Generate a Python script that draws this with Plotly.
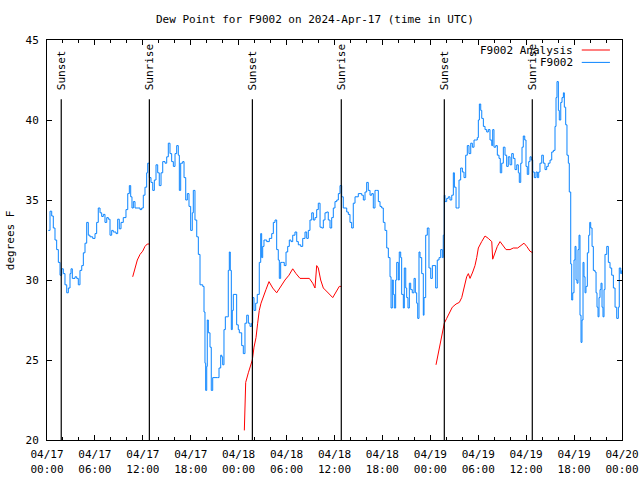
import pandas as pd
import plotly.graph_objects as go

# Hours since 2024-04-17 00:00 UTC
obs_hours = [0.16,0.38,0.59,0.79,1.00,1.21,1.42,1.63,1.84,2.04,2.25,2.47,2.67,2.88,3.01,3.17,3.51,3.72,3.92,4.13,
4.35,4.55,4.76,4.97,5.17,5.38,5.72,6.01,6.22,6.42,6.64,6.85,7.05,7.26,7.48,7.68,7.89,8.10,8.30,8.64,
8.85,9.05,9.27,9.55,9.89,10.11,10.31,10.48,10.64,10.81,11.02,11.65,11.86,12.06,12.27,12.48,12.61,12.81,13.02,13.24,
13.44,13.65,13.86,14.06,14.28,14.49,14.78,14.99,15.19,15.40,15.61,15.82,16.03,16.24,16.44,16.57,16.74,16.99,17.16,17.37,
17.57,17.78,17.99,18.19,18.32,18.53,18.75,18.95,19.16,19.50,19.66,19.78,19.87,20.00,20.07,20.20,20.41,20.57,20.75,21.04,
21.33,21.54,21.75,21.88,22.00,22.16,22.33,22.58,22.70,22.83,22.95,23.08,23.20,23.33,23.54,23.75,23.95,24.08,24.38,24.58,
24.79,25.01,25.21,25.42,25.63,25.76,25.92,26.13,26.33,26.58,26.76,26.88,27.01,27.17,27.51,27.84,28.14,28.34,28.55,28.76,
28.96,29.09,29.26,29.51,29.71,29.93,30.14,30.34,30.55,30.77,31.05,31.27,31.47,31.77,32.02,32.31,32.52,32.72,32.93,33.15,
33.35,33.56,33.77,33.97,34.19,34.40,34.60,34.81,35.02,35.22,35.44,35.65,35.85,36.06,36.28,36.48,36.69,36.90,37.10,37.53,
37.73,37.94,38.15,38.35,38.57,38.98,39.41,39.61,39.82,40.03,40.23,40.45,40.66,40.86,41.07,41.28,41.49,41.70,41.91,42.11,
42.32,42.54,42.74,42.95,43.08,43.24,43.36,43.49,43.66,43.79,43.99,44.11,44.29,44.41,44.62,44.74,44.92,45.04,45.20,45.37,
45.54,45.74,45.96,46.12,46.29,46.42,46.58,46.71,46.92,47.12,47.21,47.42,47.62,47.83,48.05,48.25,48.46,48.67,48.87,49.09,
49.30,49.50,49.62,49.75,49.84,50.05,50.25,50.46,50.68,50.88,51.01,51.22,51.38,51.59,51.80,52.01,52.22,52.43,52.63,52.84,
53.06,53.26,53.47,53.68,53.88,54.01,54.14,54.31,54.44,54.64,54.85,55.06,55.26,55.47,55.69,55.81,55.97,56.19,56.39,56.60,
56.76,56.94,57.14,57.35,57.56,57.76,57.98,58.19,58.39,58.60,58.82,59.02,59.14,59.32,59.48,59.64,59.82,59.98,60.14,60.32,
60.48,60.64,60.82,61.02,61.23,61.40,61.57,61.73,61.95,62.15,62.36,62.57,62.77,62.99,63.20,63.40,63.61,63.74,63.86,64.03,
64.15,64.33,64.49,64.66,64.78,64.95,65.11,65.28,65.40,65.58,65.70,65.83,65.99,66.12,66.24,66.37,66.49,66.62,66.74,66.87,
66.99,67.12,67.24,67.37,67.49,67.66,67.83,67.96,68.08,68.25,68.41,68.62,68.75,68.87,69.00,69.12,69.25,69.37,69.50,69.62,
69.75,69.87,70.09,70.29,70.50,70.71,70.92,71.13,71.34,71.54,71.66,71.84,71.96]
obs_dewpoint = [33.1,34.3,34.0,33.25,32.5,31.9,31.1,30.3,30.7,30.4,29.7,29.2,29.5,30.4,30.7,30.1,30.2,30.1,29.7,30.6,
30.9,31.7,32.3,33.6,32.8,32.7,32.6,32.9,33.6,34.5,34.2,33.97,34.1,33.6,33.9,33.8,32.8,33.1,33.0,32.9,
33.8,33.2,33.6,33.9,34.4,35.4,35.9,35.2,34.5,34.9,34.5,34.4,34.5,35.3,35.8,36.7,37.3,36.4,36.1,35.6,
36.25,37.2,36.7,35.9,36.7,37.4,37.3,37.7,38.55,37.9,37.4,37.1,37.9,38.4,37.8,35.6,37.3,37.4,36.4,35.0,
35.4,34.6,33.1,34.2,35.6,33.75,32.7,31.6,29.7,29.6,28.0,24.8,23.1,24.6,27.5,26.7,25.8,23.1,23.9,23.9,
23.9,24.5,25.3,25.2,24.7,26.9,27.7,27.7,30.6,31.75,30.6,26.9,28.1,29.1,29.1,27.2,26.9,26.7,25.9,25.4,
27.3,27.8,27.3,27.1,27.3,28.9,28.1,28.55,29.1,31.1,32.9,31.4,32.1,32.5,32.4,32.6,32.9,33.6,33.75,31.9,
31.25,30.1,31.1,31.1,30.9,31.75,32.1,32.5,32.4,32.8,33.0,32.4,32.2,32.1,32.6,33.0,32.6,33.1,33.75,34.2,
33.75,33.9,34.4,34.8,33.3,33.25,33.75,34.2,34.25,33.75,33.25,33.9,34.5,34.9,35.0,35.4,35.9,35.2,34.5,34.25,
34.1,33.6,33.25,34.8,35.2,35.4,35.3,35.0,35.5,36.1,35.6,35.3,35.4,34.5,35.6,35.6,34.9,34.6,34.5,33.6,
33.1,32.0,31.4,30.2,28.25,30.0,29.1,28.25,30.0,31.1,30.0,31.75,31.4,29.1,28.25,30.75,29.5,28.9,28.25,29.8,
29.4,29.2,30.1,29.2,28.55,27.6,31.75,31.4,30.4,27.8,28.9,32.8,33.25,30.75,30.1,30.9,30.9,29.5,31.25,31.4,
31.9,31.4,32.8,35.3,34.9,35.1,35.2,35.0,35.3,36.7,35.8,34.5,34.5,36.25,37.0,36.75,36.4,37.8,38.4,37.9,
38.55,38.3,38.75,38.75,38.9,40.0,41.0,40.6,40.1,39.6,39.4,39.25,39.4,38.75,38.4,39.4,38.3,38.4,37.8,37.6,
36.7,37.3,38.3,37.8,37.1,37.7,37.2,37.9,37.6,36.9,37.2,36.7,36.1,37.3,38.3,39.0,38.75,37.1,36.6,37.4,
37.7,37.5,36.75,36.4,36.75,36.4,36.75,37.3,37.8,37.3,36.9,37.1,37.3,37.5,38.0,38.1,39.6,41.4,42.4,40.6,
40.0,41.1,41.4,41.7,40.8,39.7,37.8,37.3,35.5,31.0,28.75,29.2,31.25,32.1,30.0,29.8,31.9,32.8,27.8,26.1,
27.5,31.1,30.2,29.2,29.6,31.7,32.8,33.6,33.25,32.1,30.6,30.5,29.2,28.3,27.7,28.9,29.4,29.8,28.3,27.7,
29.4,31.6,32.1,31.1,30.75,30.3,29.5,28.3,27.6,28.3,30.75,30.4,30.6]

ana_hours = [10.73,11.02,11.31,11.65,11.98,12.27,12.56,12.81,None,
24.71,24.79,24.88,25.21,25.51,25.71,25.92,26.17,26.38,26.58,26.80,27.09,27.42,27.80,28.26,28.76,29.26,29.80,30.30,30.77,
31.18,31.68,32.18,32.85,33.27,33.56,33.77,33.97,34.27,34.60,35.10,35.78,36.19,36.60,36.85,None,
48.71,49.09,49.30,49.55,49.75,50.05,50.46,50.75,51.22,51.63,51.93,52.22,52.55,52.76,52.97,53.31,53.59,53.81,54.01,54.43,
54.85,55.26,55.69,55.81,56.10,56.39,56.73,57.06,57.48,57.98,58.39,58.94,59.23,59.73,60.07,60.48,60.82]
ana_dewpoint = [30.2,30.7,31.25,31.6,31.8,32.1,32.25,32.25,None,
20.6,22.1,23.6,24.2,24.7,25.0,25.8,26.4,27.3,28.1,28.55,28.9,29.4,29.9,29.5,29.2,29.6,30.0,30.3,30.7,
30.4,30.1,30.1,30.1,29.8,29.5,30.9,30.75,30.0,29.5,29.25,28.9,29.25,29.6,29.6,None,
24.7,25.6,26.25,26.9,27.3,27.6,28.0,28.3,28.5,28.6,28.9,29.6,30.2,30.4,30.1,30.5,30.9,31.4,32.0,32.4,
32.75,32.6,32.4,31.3,31.7,32.1,32.4,32.2,31.9,31.9,32.0,32.0,32.1,32.3,32.1,31.8,31.7]

sun_times = ["2024-04-17 01:47", "2024-04-17 12:49", "2024-04-18 01:43",
             "2024-04-18 12:51", "2024-04-19 01:45", "2024-04-19 12:46"]
sun_labels = ["Sunset", "Sunrise", "Sunset", "Sunrise", "Sunset", "Sunrise"]

base = pd.Timestamp("2024-04-17 00:00")
def to_time(hs):
    return [None if h is None else base + pd.Timedelta(hours=h) for h in hs]

FONT = "DejaVu Sans Mono"
RED = "#ff0000"
BLUE = "#0a84ff"

fig = go.Figure()
fig.add_trace(go.Scatter(x=to_time(ana_hours), y=ana_dewpoint, mode="lines",
                         line=dict(color=RED, width=1), name="F9002 Analysis",
                         connectgaps=False))
fig.add_trace(go.Scatter(x=to_time(obs_hours), y=obs_dewpoint, mode="lines",
                         line=dict(color=BLUE, width=1, shape="hv"), name="F9002"))

for t, lab in zip(sun_times, sun_labels):
    fig.add_shape(type="line", xref="x", yref="y", x0=t, x1=t, y0=20, y1=41.3,
                  line=dict(color="black", width=1.2))
    fig.add_annotation(x=t, y=41.75, xref="x", yref="y", text=lab, textangle=-90,
                       showarrow=False, xanchor="center", yanchor="bottom",
                       font=dict(family=FONT, size=11, color="black"))

# manual legend (text right-aligned, sample on the right)
leg = [("F9002 Analysis", RED, 0.975), ("F9002", BLUE, 0.944)]
for name, col, yp in leg:
    fig.add_annotation(x=0.918, y=yp, xref="paper", yref="paper", text=name,
                       showarrow=False, xanchor="right", yanchor="middle",
                       font=dict(family=FONT, size=11, color="black"))
    fig.add_shape(type="line", xref="paper", yref="paper", x0=0.930, x1=0.979,
                  y0=yp, y1=yp, line=dict(color=col, width=1))

fig.add_annotation(x=-0.064, y=0.5, xref="paper", yref="paper", text="degrees F",
                   textangle=-90, showarrow=False, xanchor="center", yanchor="middle",
                   font=dict(family=FONT, size=11, color="black"))

fig.update_layout(
    width=640, height=480,
    margin=dict(l=47, r=18, t=40, b=40, autoexpand=False),
    paper_bgcolor="white", plot_bgcolor="white",
    showlegend=False,
    font=dict(family=FONT, size=11, color="black"),
    title=dict(text="Dew Point for F9002 on 2024-Apr-17 (time in UTC)",
               x=0.492, xref="container", xanchor="center",
               y=1 - 19 / 480, yref="container", yanchor="middle", automargin=False,
               font=dict(family=FONT, size=11, color="black")),
)
fig.update_xaxes(
    range=["2024-04-17 00:00", "2024-04-20 00:00"],
    tick0="2024-04-17 00:00", dtick=6 * 3600 * 1000,
    tickformat="%m/%d<br>%H:%M",
    ticks="inside", ticklen=5, tickcolor="black",
    minor=dict(dtick=2 * 3600 * 1000, ticks="inside", ticklen=3, tickcolor="black"),
    showline=True, linecolor="black", linewidth=1, mirror="ticks",
    showgrid=False, zeroline=False, automargin=False, ticklabelstandoff=4,
    tickfont=dict(family=FONT, size=11, color="black"),
)
fig.update_yaxes(
    range=[20, 45], dtick=5, tick0=20,
    ticks="inside", ticklen=5, tickcolor="black",
    showline=True, linecolor="black", linewidth=1, mirror="ticks",
    showgrid=False, zeroline=False, automargin=False, ticklabelstandoff=5,
    tickfont=dict(family=FONT, size=11, color="black"),
)

fig.write_html("out.html", config={"displayModeBar": False},
               post_script="document.body.style.margin='0px';document.body.style.padding='0px';")
